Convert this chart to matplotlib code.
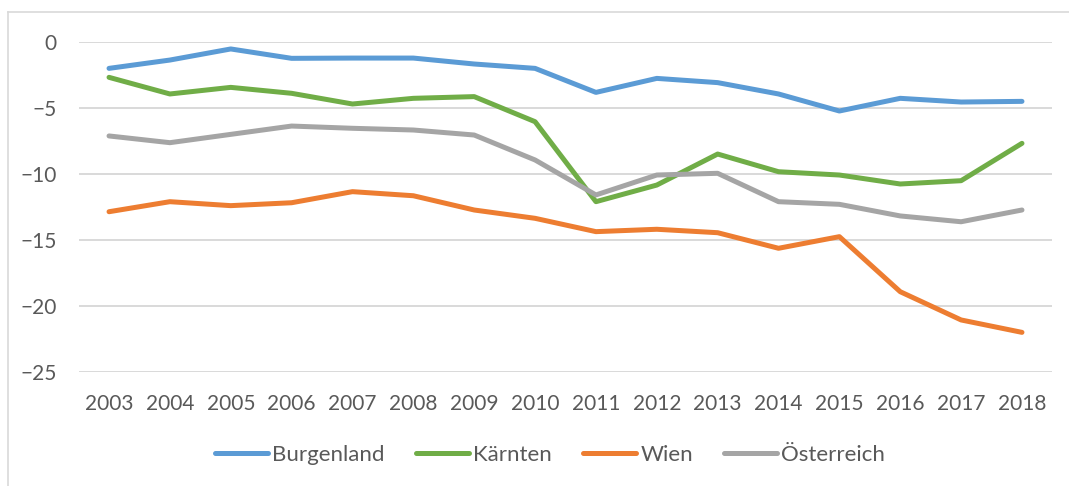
import matplotlib.pyplot as plt
from matplotlib.lines import Line2D

# Values
years = list(range(2003, 2019))
burgenland = [-2.02, -1.39, -0.55, -1.26, -1.24, -1.24, -1.69, -2.02,
              -3.84, -2.78, -3.10, -3.96, -5.25, -4.29, -4.57, -4.52]
kaernten = [-2.70, -3.96, -3.46, -3.91, -4.72, -4.29, -4.16, -6.06,
            -12.12, -10.86, -8.51, -9.85, -10.10, -10.78, -10.53, -7.70]
wien = [-12.88, -12.12, -12.42, -12.20, -11.36, -11.67, -12.75, -13.38,
        -14.39, -14.21, -14.47, -15.65, -14.77, -18.94, -21.08, -22.02]
oesterreich = [-7.14, -7.65, -7.02, -6.39, -6.56, -6.69, -7.07, -8.96,
               -11.61, -10.10, -9.97, -12.12, -12.32, -13.20, -13.64, -12.75]

series = [
    ("Burgenland", burgenland, "#5B9BD5"),
    ("Kärnten", kaernten, "#70AD47"),
    ("Wien", wien, "#ED7D31"),
    ("Österreich", oesterreich, "#A5A5A5"),
]

plt.rcParams["font.family"] = ["Lato", "DejaVu Sans"]
text_color = "#595959"
grid_color = "#D9D9D9"

fig = plt.figure(figsize=(10.69, 4.86), dpi=100)
ax = fig.add_axes([78.6 / 1069, 1 - 371.7 / 486, 973.8 / 1069, 330 / 486])

x = list(range(len(years)))
for name, vals, color in series:
    ax.plot(x, vals, color=color, linewidth=3.6, label=name,
            solid_capstyle="round", solid_joinstyle="round", zorder=3)

ax.set_xlim(-0.5, len(years) - 0.5)
ax.set_ylim(-25, 0)
ax.set_yticks([0, -5, -10, -15, -20, -25])
ax.set_xticks(x)
ax.set_xticklabels([str(y) for y in years])
ax.yaxis.grid(True, color=grid_color, linewidth=1.4, zorder=0)
ax.set_axisbelow(True)
for s in ax.spines.values():
    s.set_visible(False)
ax.tick_params(axis="both", length=0, labelsize=15, labelcolor=text_color)
ax.tick_params(axis="y", pad=16)
ax.tick_params(axis="x", pad=16)

# Legend below the plot
fig.legend(loc="center", bbox_to_anchor=(550 / 1069, 1 - 455 / 486),
           ncol=4, frameon=False, fontsize=16, labelcolor=text_color,
           handlelength=2.4, handletextpad=0.18, columnspacing=1.4)

# Light frame of the chart area
fig.add_artist(Line2D([7.5 / 1069, 7.5 / 1069], [0, 1 - 12.5 / 486],
                      transform=fig.transFigure, color=grid_color, linewidth=1.2))
fig.add_artist(Line2D([7.5 / 1069, 1], [1 - 12.5 / 486, 1 - 12.5 / 486],
                      transform=fig.transFigure, color=grid_color, linewidth=1.2))

fig.savefig("out.png", dpi=100)
